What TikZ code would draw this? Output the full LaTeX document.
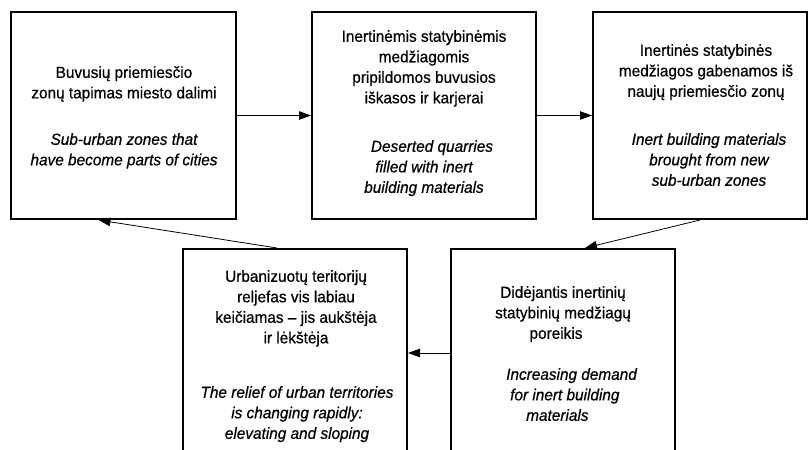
\documentclass[tikz,border=0pt]{standalone}
\usepackage{fontspec}
\setmainfont{Liberation Sans}[FakeStretch=0.96, FakeBold=0.6]
\usetikzlibrary{arrows.meta}
\begin{document}
\begin{tikzpicture}[x=1pt,y=-1pt,
 box/.style={draw, line width=2pt, rectangle, inner sep=0pt},
 txt/.style={font=\fontsize{16}{20.5}\selectfont, align=center, inner sep=0pt, anchor=north},
 itx/.style={txt, font=\fontsize{16}{20.5}\selectfont\itshape},
 conn/.style={line width=0.8pt, -{Triangle[length=12pt,width=8.5pt]}}]
\useasboundingbox (0,0) rectangle (809,450);
\clip (0,0) rectangle (809,450);
\node[box, minimum width=225pt, minimum height=207pt] (b1) at (123.5,115.5) {};
\node[box, minimum width=224pt, minimum height=207pt] (b2) at (424,115.5) {};
\node[box, minimum width=214pt, minimum height=207pt] (b3) at (700,115.5) {};
\node[box, minimum width=224pt, minimum height=208pt] (b4) at (295,353) {};
\node[box, minimum width=224pt, minimum height=208pt] (b5) at (563,353) {};
\node[txt] (t1) at (124,66) {Buvusių priemiesčio\\zonų tapimas miesto dalimi};
\node[itx] (e1) at (124,133) {Sub-urban zones that\\have become parts of cities};
\node[txt] (t2) at (424,30) {Inertinėmis statybinėmis\\medžiagomis\\pripildomos buvusios\\iškasos ir karjerai};
\node[itx] (e2) at (424,140) {\hspace*{16pt}Deserted quarries\\filled with inert\\building materials};
\node[txt] (t3) at (706,44) {Inertinės statybinės\\medžiagos gabenamos iš\\naujų priemiesčio zonų};
\node[itx] (e3) at (709,133) {Inert building materials\\brought from new\\sub-urban zones};
\node[txt] (t4) at (296,270) {Urbanizuotų teritorijų\\reljefas vis labiau\\keičiamas – jis aukštėja\\ir lėkštėja};
\node[itx] (e4) at (297,386) {The relief of urban territories\\is changing rapidly:\\elevating and sloping};
\node[txt] (t5) at (563,286) {Didėjantis inertinių\\statybinių medžiagų\\poreikis\hspace*{14pt}};
\node[itx, align=left, anchor=north west] (e5) at (506,368) {Increasing demand\\\hspace*{4pt}for inert building\\\hspace*{20pt}materials};
\draw[conn] (b1.east) -- (b2.west);
\draw[conn] (b2.east) -- (b3.west);
\draw[conn] (b3.south) -- ([xshift=22pt]b5.north);
\draw[conn] (b5.west) -- (b4.east);
\draw[conn] ([xshift=-18pt]b4.north) -- ([xshift=-25pt]b1.south);
\end{tikzpicture}
\end{document}
